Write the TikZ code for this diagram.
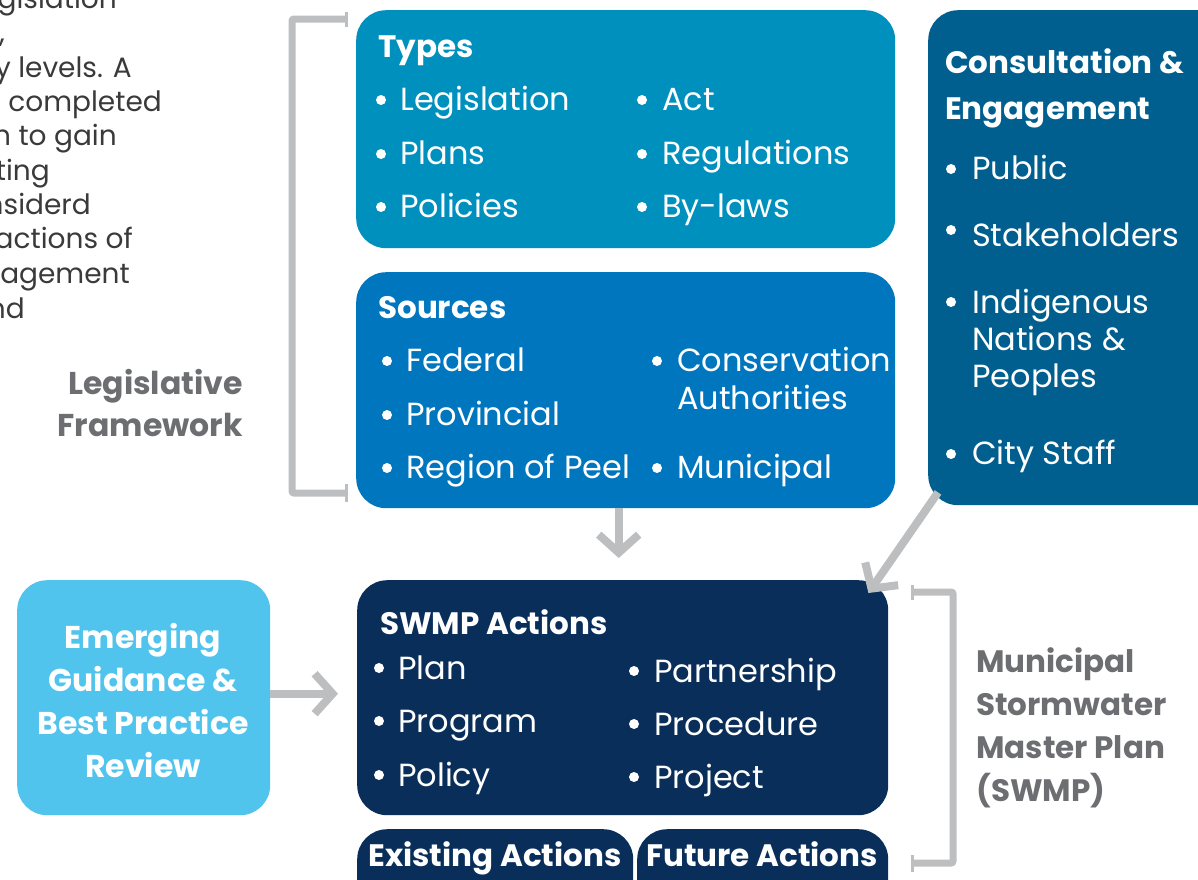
\documentclass[tikz,border=0pt]{standalone}
\usepackage{fontspec}
\setmainfont{Poppins}
\usetikzlibrary{arrows.meta,calc}
\definecolor{typesc}{RGB}{0,144,190}
\definecolor{sourcesc}{RGB}{0,118,190}
\definecolor{consultc}{RGB}{0,95,142}
\definecolor{emergc}{RGB}{80,196,236}
\definecolor{swmpc}{RGB}{9,46,90}
\definecolor{brk}{RGB}{188,190,192}
\definecolor{gtext}{RGB}{109,110,113}
\definecolor{para}{RGB}{58,58,58}
\tikzset{
  box/.style={draw=none, rounded corners=30pt, inner sep=0pt, anchor=north west},
  item/.style={anchor=base west, inner sep=0pt, text=white, font=\fontsize{32}{37}\selectfont},
  ttl/.style={anchor=base west, inner sep=0pt, text=white, font=\fontsize{31}{36}\selectfont\bfseries},
  glabel/.style={inner sep=0pt, text=gtext, font=\fontsize{31}{43}\selectfont\bfseries},
  ptext/.style={anchor=base east, inner sep=0pt, text=para, font=\fontsize{28}{30}\selectfont},
  garrow/.style={draw=brk, line width=8pt, -{Straight Barb[length=18pt,width=40pt]}},
  bracket/.style={draw=brk, line width=7pt, rounded corners=2pt},
  bulletc/.style={fill=white}
}
\begin{document}
\begin{tikzpicture}[x=1pt,y=-1pt]
\useasboundingbox (0,0) rectangle (1198,879);
% paragraph fragments
\begin{scope}
\clip (0,0) rectangle (300,340);
\node[ptext] (p1) at (117,8) {gislation};
\node[ptext] (p2) at (5,42) {,};
\node[ptext] (p3) at (132,77) {y levels. A};
\node[ptext] (p4) at (162,111) {completed};
\node[ptext] (p5) at (117,145) {n to gain};
\node[ptext] (p6) at (50,180) {ting};
\node[ptext] (p7) at (91,214) {nsiderd};
\node[ptext] (p8) at (133,248) {actions of};
\node[ptext] (p9) at (130,283) {nagement};
\node[ptext] (p10) at (25,318) {nd};
\end{scope}
% boxes
\node[box, fill=typesc, minimum width=539pt, minimum height=238pt] (types) at (356,10) {};
\node[box, fill=sourcesc, minimum width=539pt, minimum height=236pt] (sources) at (356,272) {};
\node[box, fill=consultc, minimum width=300pt, minimum height=495pt] (consult) at (928,10) {};
\node[box, fill=emergc, minimum width=253pt, minimum height=235pt] (emerging) at (17,580) {};
\node[box, fill=swmpc, minimum width=531pt, minimum height=235pt] (swmp) at (357,580) {};
\begin{scope}
\clip (0,0) rectangle (1198,879);
\node[box, fill=swmpc, minimum width=276pt, minimum height=80pt] (existing) at (357,829) {};
\node[box, fill=swmpc, minimum width=251pt, minimum height=80pt] (future) at (637,829) {};
\end{scope}
% arrows
\draw[garrow, shorten >=22pt] ([xshift=-7pt]sources.south) -- ([xshift=-4pt]swmp.north);
\draw[garrow] ([shift={(10pt,13pt)}]consult.south west) -- ([shift={(-20pt,-13pt)}]swmp.north east);
\draw[garrow, shorten >=19pt] ([yshift=4pt]emerging.east) -- ([yshift=4pt]swmp.west);
% brackets
\draw[bracket] (346,19) -- (292,19) -- (292,493) -- (346,493);
\draw[brk, line width=3pt] (346,12) -- (346,27) (346,484) -- (346,502);
\draw[bracket] (912,592) -- (953,592) -- (953,863) -- (912,863);
\draw[brk, line width=3pt] (912,585) -- (912,600) (912,855) -- (912,872);
% Types
\node[ttl] (typesT) at (378,57) {Types};
\foreach \n/\y/\t in {a/110/Legislation, b/164/Plans, c/217/Policies}{
  \fill[bulletc] (381,\y-10) circle (5pt);
  \node[item] (ty\n) at (400,\y) {\t};}
\foreach \n/\y/\t in {d/110/Act, e/164/Regulations, f/217/By-laws}{
  \fill[bulletc] (642,\y-10) circle (5pt);
  \node[item] (ty\n) at (662,\y) {\t};}
% Sources
\node[ttl] (sourcesT) at (378,318) {Sources};
\foreach \n/\y/\t in {a/371/Federal, b/425/Provincial, c/478/Region of Peel}{
  \fill[bulletc] (387,\y-10) circle (5pt);
  \node[item] (so\n) at (406,\y) {\t};}
\fill[bulletc] (657,361) circle (5pt);
\node[item] (sod) at (677,371) {Conservation};
\node[item] (soe) at (677,409) {Authorities};
\fill[bulletc] (657,468) circle (5pt);
\node[item] (sof) at (677,478) {Municipal};
% Consultation
\node[ttl] (consT1) at (945,73) {Consultation \&};
\node[ttl] (consT2) at (945,119) {Engagement};
\fill[bulletc] (951,169) circle (5pt);
\node[item] (coa) at (972,179) {Public};
\fill[bulletc] (951,230) circle (5pt);
\node[item] (cob) at (972,246) {Stakeholders};
\fill[bulletc] (951,302) circle (5pt);
\node[item] (coc1) at (972,313) {Indigenous};
\node[item] (coc2) at (972,350) {Nations \&};
\node[item] (coc3) at (972,387) {Peoples};
\fill[bulletc] (951,454) circle (5pt);
\node[item] (cod) at (972,464) {City Staff};
% SWMP
\node[ttl] (swmpT) at (380,634) {SWMP Actions};
\foreach \n/\y/\t in {a/679/Plan, b/732/Program, c/786/Policy}{
  \fill[bulletc] (379,\y-11) circle (5pt);
  \node[item] (sw\n) at (398,\y) {\t};}
\foreach \n/\y/\t in {d/682/Partnership, e/735/Procedure, f/788/Project}{
  \fill[bulletc] (634,\y-11) circle (5pt);
  \node[item] (sw\n) at (654,\y) {\t};}
% Emerging
\node[glabel, text=white, font=\fontsize{31.5}{42.7}\selectfont\bfseries, align=center, anchor=base] (emT) at (143,777) {Emerging\\Guidance \&\\Best Practice\\Review};
% pills
\node[ttl, anchor=base] (exT) at (495,866) {Existing Actions};
\node[ttl, anchor=base] (fuT) at (762,866) {Future Actions};
% gray labels
\node[glabel, font=\fontsize{31.5}{42}\selectfont\bfseries, align=right, anchor=base east] (legT) at (243,436) {Legislative\\Framework};
\node[glabel, align=left, anchor=base west] (munT) at (976,801) {Municipal\\Stormwater\\Master Plan\\(SWMP)};
\end{tikzpicture}
\end{document}
